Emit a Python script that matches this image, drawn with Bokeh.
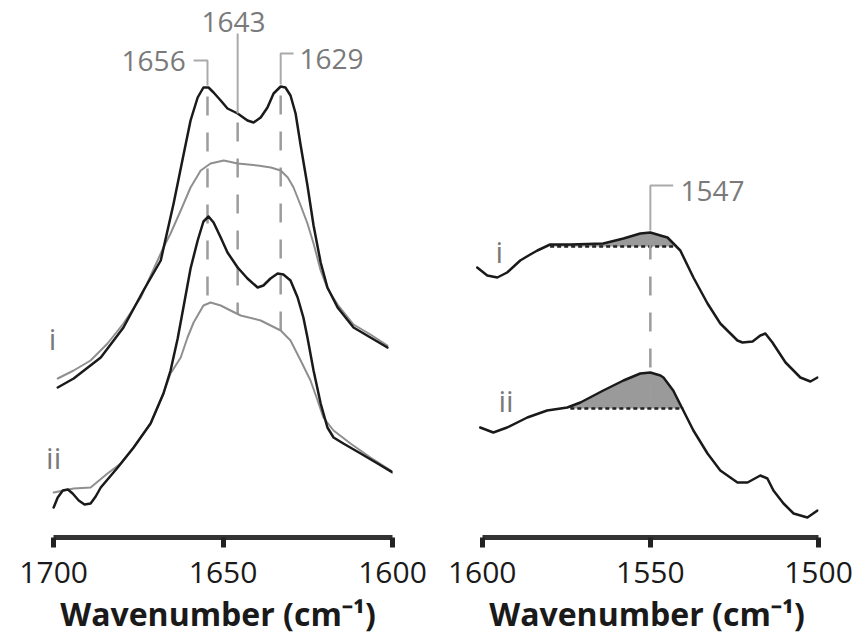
import numpy as np
from bokeh.plotting import figure
from bokeh.layouts import row
from bokeh.models import Range1d, FixedTicker
from bokeh.core.properties import value
from bokeh.embed import file_html
from bokeh.resources import INLINE

# ---------------- data: Amide I region (left panel) ----------------
a1_black_i_x = [1698.8, 1694.1, 1686.1, 1679.4, 1673.5, 1668.4, 1664.6, 1661.6, 1659.6, 1657.5,
                1655.8, 1654.3, 1652.8, 1650.7, 1648.7, 1645.7, 1642.8, 1641.0, 1638.9, 1636.9,
                1635.1, 1633.0, 1631.6, 1630.1, 1628.6, 1627.1, 1625.1, 1623.3, 1621.2, 1619.2,
                1616.2, 1611.5, 1606.5, 1601.5]
a1_black_i_y = [1.49, 1.58, 1.79, 2.09, 2.46, 2.76, 3.33, 3.83, 4.16, 4.39,
                4.49, 4.49, 4.44, 4.36, 4.28, 4.23, 4.16, 4.14, 4.19, 4.29,
                4.43, 4.50, 4.49, 4.41, 4.23, 3.91, 3.51, 3.11, 2.74, 2.49,
                2.29, 2.09, 1.99, 1.89]

a1_gray_i_x = [1698.8, 1694.1, 1689.1, 1684.1, 1679.4, 1674.3, 1667.6, 1665.5, 1662.5, 1659.6,
               1656.6, 1653.7, 1649.8, 1645.7, 1639.8, 1635.9, 1633.0, 1630.9, 1629.2, 1627.1,
               1625.1, 1623.3, 1621.2, 1619.2, 1616.2, 1611.5, 1606.5, 1601.5]
a1_gray_i_y = [1.58, 1.66, 1.76, 1.93, 2.13, 2.39, 2.89, 3.03, 3.26, 3.49,
               3.66, 3.73, 3.76, 3.73, 3.71, 3.69, 3.66, 3.59, 3.49, 3.31,
               3.13, 2.93, 2.66, 2.48, 2.32, 2.12, 2.02, 1.91]

a1_black_ii_x = [1700.0, 1698.8, 1697.3, 1695.8, 1694.4, 1692.6, 1690.9, 1689.1, 1687.6, 1686.1,
                 1681.1, 1676.4, 1671.4, 1667.6, 1665.5, 1663.4, 1661.6, 1659.6, 1657.5, 1655.8,
                 1654.3, 1652.8, 1650.7, 1648.7, 1645.7, 1642.8, 1639.8, 1638.1, 1636.0, 1633.9,
                 1632.2, 1630.1, 1628.0, 1626.3, 1625.1, 1623.3, 1621.2, 1619.2, 1617.4, 1614.5,
                 1609.4, 1604.4, 1600.0]
a1_black_ii_y = [0.29, 0.39, 0.46, 0.47, 0.43, 0.36, 0.32, 0.33, 0.40, 0.49,
                 0.69, 0.89, 1.13, 1.43, 1.66, 1.98, 2.31, 2.68, 2.96, 3.15,
                 3.20, 3.14, 2.99, 2.84, 2.69, 2.58, 2.49, 2.51, 2.58, 2.63,
                 2.62, 2.56, 2.39, 2.19, 1.99, 1.66, 1.33, 1.09, 0.99, 0.93,
                 0.83, 0.73, 0.64]

a1_gray_ii_x = [1700.0, 1694.1, 1689.1, 1684.1, 1680.2, 1676.4, 1671.4, 1667.6, 1665.5, 1662.5,
                1660.5, 1658.7, 1655.8, 1653.7, 1650.7, 1647.8, 1644.8, 1638.9, 1633.0, 1630.1,
                1627.1, 1624.2, 1622.1, 1620.4, 1617.4, 1612.4, 1606.5, 1600.0]
a1_gray_ii_y = [0.44, 0.48, 0.49, 0.63, 0.73, 0.89, 1.13, 1.43, 1.63, 1.79,
                1.99, 2.14, 2.31, 2.34, 2.31, 2.26, 2.21, 2.16, 2.06, 1.96,
                1.76, 1.56, 1.36, 1.19, 1.06, 0.93, 0.79, 0.65]

a1_peak_pos = [1654.6, 1645.7, 1633.0]
a1_peak_labels = ["1656", "1643", "1629"]

# ---------------- data: Amide II region (right panel) ----------------
a2_i_x = [1601.5, 1598.5, 1595.5, 1592.6, 1588.7, 1585.7, 1583.6, 1579.8, 1573.8, 1564.0,
          1558.0, 1553.0, 1550.0, 1547.0, 1544.9, 1541.1, 1537.2, 1533.0, 1529.2, 1524.1,
          1522.6, 1519.6, 1517.3, 1515.8, 1513.7, 1509.8, 1505.4, 1502.4, 1500.3]
a2_i_y = [2.69, 2.61, 2.59, 2.64, 2.76, 2.82, 2.86, 2.92, 2.92, 2.93,
          2.98, 3.03, 3.04, 3.01, 2.99, 2.86, 2.59, 2.33, 2.13, 1.96,
          1.94, 1.95, 2.01, 2.03, 1.94, 1.74, 1.59, 1.55, 1.59]

a2_ii_x = [1600.6, 1596.7, 1592.6, 1586.6, 1580.7, 1574.7, 1570.8, 1564.0, 1558.0, 1553.0,
           1550.0, 1547.0, 1546.1, 1543.2, 1540.2, 1537.2, 1533.0, 1529.2, 1524.1, 1521.1,
           1517.3, 1515.2, 1513.4, 1510.4, 1507.4, 1503.3, 1500.3]
a2_ii_y = [1.09, 1.04, 1.09, 1.19, 1.26, 1.29, 1.34, 1.46, 1.56, 1.63,
           1.64, 1.61, 1.59, 1.46, 1.26, 1.06, 0.83, 0.66, 0.54, 0.54,
           0.61, 0.58, 0.46, 0.33, 0.23, 0.19, 0.26]

a2_base_i = [1579.8, 1543.2, 2.90]    # x start, x end, baseline level
a2_base_ii = [1573.8, 1540.2, 1.28]
a2_peak_pos = [1550.0]
a2_peak_labels = ["1547"]

# ---------------- styles ----------------
FONT = "Open Sans"
BLACK = "#1a1a1a"
GRAY_CURVE = "#8f8f8f"
GRAY_MARK = "#9c9c9c"
LABEL_GRAY = "#7a7a7a"
DASH = "19 17"
YR = (-0.01, 5.36)


def interp(xs, ys, x):
    xs = np.asarray(xs)[::-1]
    ys = np.asarray(ys)[::-1]
    return float(np.interp(x, xs, ys))


def make_fig(xr, frame_w, bl, br, bounds, ticks):
    p = figure(x_range=Range1d(*xr), y_range=Range1d(*YR),
               frame_width=frame_w, frame_height=537,
               min_border_left=bl, min_border_right=br,
               min_border_top=0, min_border_bottom=99,
               toolbar_location=None, output_backend="svg",
               y_axis_location=None, outline_line_color=None,
               background_fill_color="white", border_fill_color="white")
    p.xgrid.visible = False
    p.ygrid.visible = False
    ax = p.xaxis[0]
    ax.bounds = bounds
    ax.ticker = FixedTicker(ticks=ticks)
    ax.minor_tick_line_color = None
    ax.major_tick_in = 0
    ax.major_tick_out = 10
    ax.major_tick_line_width = 5
    ax.major_tick_line_color = "#222222"
    ax.axis_line_width = 5
    ax.axis_line_color = "#333333"
    ax.major_label_text_font = FONT
    ax.major_label_text_font_size = "30px"
    ax.major_label_text_color = BLACK
    ax.major_label_standoff = 14
    ax.axis_label = "Wavenumber (cm\u207b\u00b9)"
    ax.axis_label_text_font = FONT
    ax.axis_label_text_font_style = "bold"
    ax.axis_label_text_font_size = "32px"
    ax.axis_label_text_color = BLACK
    ax.axis_label_standoff = 6
    return p


def txt(p, x, y, s, size="28px", color=LABEL_GRAY):
    p.text(x=[x], y=[y], text=[s], text_align="center", text_baseline="middle",
           text_font=value(FONT), text_font_size=size, text_color=color)


def curve(p, xs, ys, color, width):
    p.line(xs, ys, line_color=color, line_width=width, line_join="round", line_cap="round")


# ---------------- left panel ----------------
p1 = make_fig((1703, 1600), 349, 43, 45, (1600, 1700), [1600, 1650, 1700])

# dashed guide lines from top black curve to bottom gray curve
for xp in a1_peak_pos:
    top = interp(a1_black_i_x, a1_black_i_y, xp) - 0.09
    bot = interp(a1_gray_ii_x, a1_gray_ii_y, xp)
    p1.segment(x0=[xp], y0=[top], x1=[xp], y1=[bot], line_color=GRAY_MARK,
               line_width=2.5, line_dash=DASH)

curve(p1, a1_gray_i_x, a1_gray_i_y, GRAY_CURVE, 2)
curve(p1, a1_gray_ii_x, a1_gray_ii_y, GRAY_CURVE, 2)
curve(p1, a1_black_i_x, a1_black_i_y, BLACK, 2.5)
curve(p1, a1_black_ii_x, a1_black_ii_y, BLACK, 2.5)

# label brackets
bracket = dict(line_color="#aaaaaa", line_width=2)
x0 = a1_peak_pos[0]
yb = 4.76
p1.line([x0 + 4.1, x0, x0], [yb, yb, interp(a1_black_i_x, a1_black_i_y, x0) + 0.02], **bracket)
txt(p1, x0 + 15.9, yb, a1_peak_labels[0])
x1 = a1_peak_pos[1]
p1.line([x1, x1], [5.03, interp(a1_black_i_x, a1_black_i_y, x1)], **bracket)
txt(p1, x1 + 1.2, 5.15, a1_peak_labels[1])
x2 = a1_peak_pos[2]
yb2 = 4.83
p1.line([x2 - 3.8, x2, x2], [yb2, yb2, interp(a1_black_i_x, a1_black_i_y, x2) + 0.02], **bracket)
txt(p1, x2 - 15.0, 4.78, a1_peak_labels[2])

txt(p1, 1700.3, 1.98, "i", size="30px")
txt(p1, 1700.0, 0.79, "ii", size="30px")

# ---------------- right panel ----------------
p2 = make_fig((1602, 1500), 343, 38, 36, (1500, 1600), [1500, 1550, 1600])

for (xs_, ys_, base) in [(a2_i_x, a2_i_y, a2_base_i), (a2_ii_x, a2_ii_y, a2_base_ii)]:
    xa, xb, lvl = base
    xx = np.linspace(xb, xa, 80)
    cur = np.array([interp(xs_, ys_, v) for v in xx])
    p2.varea(x=xx, y1=np.full_like(xx, lvl), y2=np.maximum(cur, lvl), fill_color="#9a9a9a")
    p2.line([xa, xb], [lvl, lvl], line_color="#222222", line_width=2.5, line_dash="4 3")

xp = a2_peak_pos[0]
top = interp(a2_i_x, a2_i_y, xp) - 0.08
bot = a2_base_ii[2] - 0.02
p2.segment(x0=[xp], y0=[top], x1=[xp], y1=[bot], line_color=GRAY_MARK,
           line_width=2.5, line_dash=DASH)

curve(p2, a2_i_x, a2_i_y, BLACK, 2.5)
curve(p2, a2_ii_x, a2_ii_y, BLACK, 2.5)

yb3 = 3.51
p2.line([xp - 6.8, xp, xp], [yb3, yb3, interp(a2_i_x, a2_i_y, xp) + 0.02], **bracket)
txt(p2, xp - 18.5, 3.46, a2_peak_labels[0])

txt(p2, 1594.9, 2.85, "i", size="30px")
txt(p2, 1592.9, 1.36, "ii", size="30px")

layout = row(p1, p2)
open("out.html", "w").write(file_html(layout, INLINE))
